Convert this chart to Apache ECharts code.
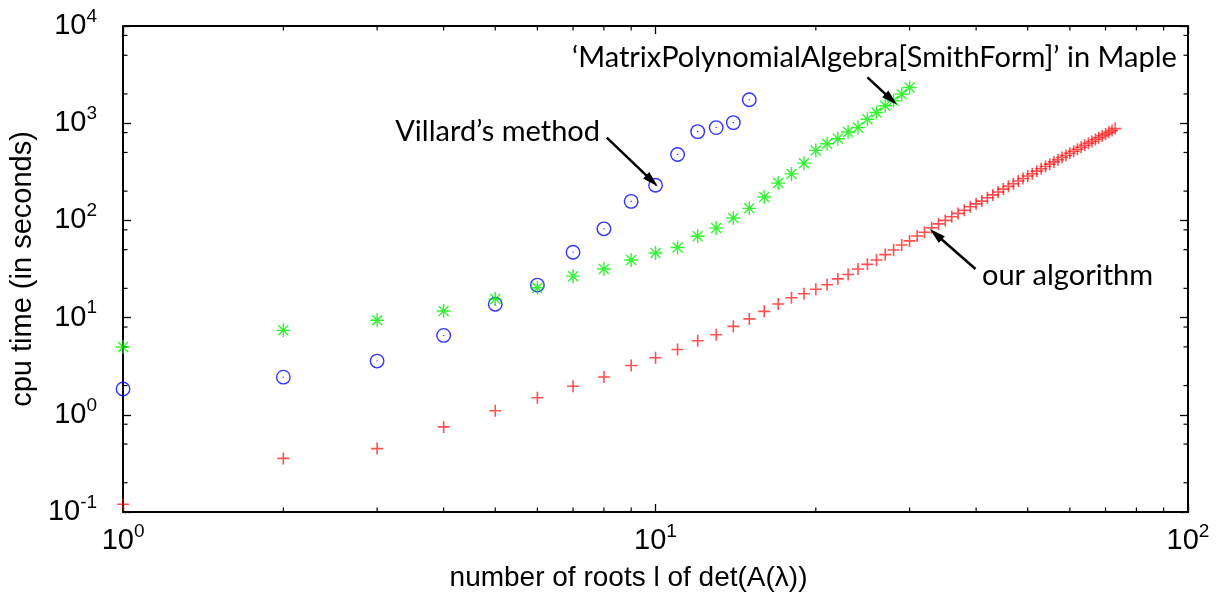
<!DOCTYPE html>
<html><head><meta charset="utf-8">
<script src="https://cdn.jsdelivr.net/npm/echarts@6/dist/echarts.min.js"></script>
<style>html,body{margin:0;padding:0;background:#fff}#c{width:1217px;height:601px}</style>
</head><body><div id="c"></div>
<script>
const xTitle = 'number of roots l of det(A(\u03bb))';
const yTitle = 'cpu time (in seconds)';

const ourX = [];
for (let i = 1; i <= 73; i++) ourX.push(i);
const ourY = [0.12, 0.356, 0.449, 0.751, 1.10, 1.50, 1.97, 2.45, 3.21, 3.86,
  4.70, 5.78, 6.67, 8.13, 9.7, 11.6, 13.8, 16.0, 17.6, 19.6,
  21.8, 25.0, 27.8, 31.6, 35.3, 39.1, 44.5, 49.6, 55.9, 61.5,
  69.0, 75.5, 84, 92, 100, 109, 118, 127, 138, 148,
  158, 171, 183, 196, 210, 224, 238, 254, 270, 286,
  302, 321, 340, 359, 379, 400, 421, 443, 466, 490,
  515, 540, 566, 593, 621, 649, 679, 709, 740, 772,
  805, 839, 880];

const villardX = [1, 2, 3, 4, 5, 6, 7, 8, 9, 10, 11, 12, 13, 14, 15];
const villardY = [1.84, 2.44, 3.57, 6.56, 13.7, 21.6, 47.0, 81.9, 157, 230, 477, 819, 901, 1014, 1742];

const mapleX = [];
for (let i = 1; i <= 30; i++) mapleX.push(i);
const mapleY = [4.98, 7.39, 9.38, 11.7, 15.5, 20.3, 26.7, 31.6, 39.2, 46.2,
  52.6, 68.8, 83.3, 106, 133, 174, 242, 301, 388, 525,
  615, 693, 813, 901, 1097, 1288, 1510, 1702, 1990, 2333];

const xMinorTicks = [2, 3, 4, 5, 6, 7, 8, 9, 20, 30, 40, 50, 60, 70, 80, 90];
const yMinorTicks = [0.2, 0.5, 0.8, 2, 5, 8, 20, 50, 80, 200, 500, 800, 2000, 5000, 8000];

const annotations = [
  {text: 'Villard\u2019s method', at: [600, 132], align: 'right'},
  {text: '\u2018MatrixPolynomialAlgebra[SmithForm]\u2019 in Maple', at: [572, 58], align: 'left'},
  {text: 'our algorithm', at: [982, 276], align: 'left'}
];
const arrows = [
  [[8.1, 710], [9.85, 255]],
  [[25.0, 2965], [27.7, 1760]],
  [[39.9, 31.6], [33.6, 72]]
];

const pairs = (xs, ys) => xs.map((x, i) => [x, ys[i]]);

const labelFmt = v => {
  const e = Math.round(Math.log10(v));
  return '{b|10}{s|' + e + '}';
};
const labelRich = {
  b: {fontSize: 29, fontFamily: 'Liberation Sans', color: '#000', lineHeight: 28, padding: [10, 0, 0, 0]},
  s: {fontSize: 19, fontFamily: 'Liberation Sans', color: '#000', lineHeight: 19, verticalAlign: 'top'}
};

const axisLineStyle = {show: true, onZero: false, lineStyle: {color: '#000', width: 2}};
const majorTick = {show: true, inside: true, length: 8, lineStyle: {color: '#000', width: 1.3}};

const chart = echarts.init(document.getElementById('c'), null, {renderer: 'canvas'});
chart.setOption({
  animation: false,
  backgroundColor: '#fff',
  grid: {left: 120, right: 29, top: 26, bottom: 89, containLabel: false},
  xAxis: [
    {type: 'log', logBase: 10, min: 1, max: 100, position: 'bottom',
     axisLine: axisLineStyle, axisTick: majorTick, splitLine: {show: false},
     axisLabel: {formatter: labelFmt, rich: labelRich, margin: 10},
     name: xTitle, nameLocation: 'middle', nameGap: 52,
     nameTextStyle: {fontFamily: 'Liberation Sans', fontSize: 28, color: '#000', padding: [0, 54, 0, 0]}},
    {type: 'log', logBase: 10, min: 1, max: 100, position: 'top',
     axisLine: axisLineStyle, axisTick: majorTick, splitLine: {show: false},
     axisLabel: {show: false}}
  ],
  yAxis: [
    {type: 'log', logBase: 10, min: 0.1, max: 10000, position: 'left',
     axisLine: axisLineStyle, axisTick: majorTick, splitLine: {show: false},
     axisLabel: {formatter: labelFmt, rich: labelRich, margin: 26, padding: [0, 0, 10, 0]},
     name: yTitle, nameLocation: 'middle', nameGap: 82, nameRotate: 90,
     nameTextStyle: {fontFamily: 'Liberation Sans', fontSize: 29, color: '#000'}},
    {type: 'log', logBase: 10, min: 0.1, max: 10000, position: 'right',
     axisLine: axisLineStyle, axisTick: majorTick, splitLine: {show: false},
     axisLabel: {show: false}}
  ],
  graphic: annotations.map(a => ({
    type: 'text', x: a.at[0], y: a.at[1], z: 100,
    style: {text: a.text, align: a.align, verticalAlign: 'middle',
            font: '29px Lato', fill: '#000'}
  })),
  series: [
    {type: 'custom', name: 'yminor', silent: true, clip: false, z: 1,
     data: yMinorTicks.map(v => [1, v]),
     renderItem: (params, api) => {
       const cs = params.coordSys;
       const y = api.coord([1, api.value(1)])[1];
       const st = {stroke: '#000', lineWidth: 1.2};
       return {type: 'group', children: [
         {type: 'line', shape: {x1: cs.x, y1: y, x2: cs.x + 4.5, y2: y}, style: st},
         {type: 'line', shape: {x1: cs.x + cs.width - 4.5, y1: y, x2: cs.x + cs.width, y2: y}, style: st}
       ]};
     }},
    {type: 'custom', name: 'xminor', silent: true, clip: false, z: 1,
     data: xMinorTicks.map(v => [v, 1]),
     renderItem: (params, api) => {
       const cs = params.coordSys;
       const x = api.coord([api.value(0), 1])[0];
       const st = {stroke: '#000', lineWidth: 1.2};
       return {type: 'group', children: [
         {type: 'line', shape: {x1: x, y1: cs.y + cs.height, x2: x, y2: cs.y + cs.height - 4.5}, style: st},
         {type: 'line', shape: {x1: x, y1: cs.y, x2: x, y2: cs.y + 4.5}, style: st}
       ]};
     }},
    {type: 'scatter', name: 'our algorithm', clip: false, z: 3,
     data: pairs(ourX, ourY),
     symbol: 'path://M0,6 L12,6 M6,0 L6,12', symbolSize: 12,
     itemStyle: {color: 'transparent', borderColor: 'rgba(255,0,0,0.85)', borderWidth: 1.6},
     markLine: {silent: true, symbol: ['none', 'path://M5,0 L10,18 L0,18 Z'], symbolSize: [9, 16],
       lineStyle: {color: '#000', width: 2.5, type: 'solid'}, label: {show: false},
       itemStyle: {color: '#000'},
       data: arrows.map(a => [{coord: a[0]}, {coord: a[1]}])}},
    {type: 'scatter', name: 'Villard', clip: false, z: 3,
     data: pairs(villardX, villardY),
     symbol: 'path://M13,6.5 A6.5,6.5 0 1 1 0,6.5 A6.5,6.5 0 1 1 13,6.5 Z M6.5,6 L6.5,7', symbolSize: 13.5,
     itemStyle: {color: 'transparent', borderColor: '#0000ff', borderWidth: 1.4}},
    {type: 'scatter', name: 'Maple', clip: false, z: 3,
     data: pairs(mapleX, mapleY),
     symbol: 'path://M0,7 L14,7 M7,0 L7,14 M2,2 L12,12 M2,12 L12,2', symbolSize: 14,
     itemStyle: {color: 'transparent', borderColor: '#00f000', borderWidth: 1.4}}
  ]
});
</script></body></html>
